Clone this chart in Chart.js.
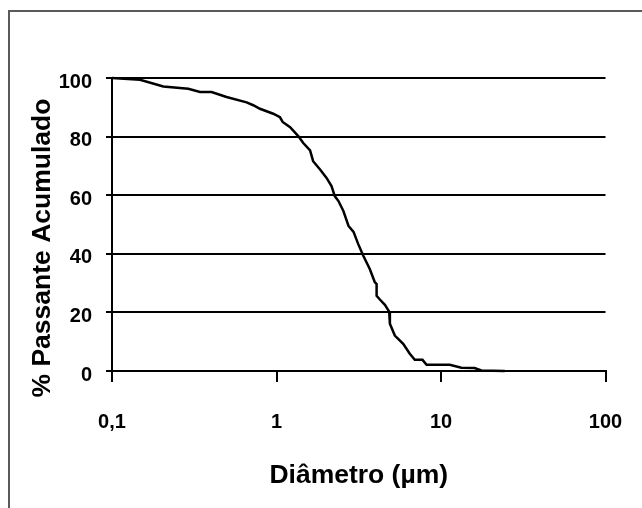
<!DOCTYPE html>
<html>
<head>
<meta charset="utf-8">
<script src="https://cdn.jsdelivr.net/npm/chart.js@4"></script>
<style>
  html, body { margin: 0; padding: 0; background: #fff; }
  #wrap { position: relative; width: 642px; height: 508px; overflow: hidden; }
  #frame { position: absolute; left: 8px; top: 10px; width: 700px; height: 600px; border: 2px solid #5a5a5a; box-sizing: border-box; }
  canvas { position: absolute; left: 0; top: 0; }
</style>
</head>
<body>
<div id="wrap">
  <div id="frame"></div>
  <canvas id="myChart" width="642" height="508"></canvas>
</div>
<script>
// Particle size distribution - cumulative passing vs diameter

const diametro = [0.1, 0.148, 0.205, 0.291, 0.343, 0.403, 0.497, 0.658, 0.722, 0.793,
  0.955, 1.05, 1.09, 1.21, 1.36, 1.45, 1.60, 1.67, 1.84, 2.01,
  2.16, 2.26, 2.38, 2.55, 2.74, 2.94, 3.14, 3.37, 3.69, 3.96,
  4.06, 4.06, 4.25, 4.56, 4.84, 4.89, 5.24, 5.89, 6.46, 6.93,
  7.72, 8.17, 11.3, 13.3, 16.0, 17.6, 24.4];
const passante = [100, 99.4, 97.1, 96.3, 95.2, 95.2, 93.5, 91.7, 90.7, 89.5,
  87.8, 86.6, 85.0, 83.2, 80.1, 77.9, 75.3, 71.6, 68.8, 66.0,
  63.1, 59.7, 58.0, 54.6, 49.5, 47.5, 43.3, 39.3, 34.8, 30.3,
  29.7, 25.7, 24.4, 22.6, 20.3, 16.1, 12.1, 9.3, 5.9, 3.8,
  3.8, 2.1, 2.1, 1.1, 1.0, 0.2, 0];

const xTickValues = [0.1, 1, 10, 100];
const xTickLabels = ['0,1', '1', '10', '100'];
const xTitle = 'Diâmetro (µm)';
const yTitle = '% Passante Acumulado';

const FONT = '"Liberation Sans", Arial, sans-serif';

// y-axis title drawn by hand so it can sit a bit below the axis centre
const yTitlePlugin = {
  id: 'yTitle',
  afterDraw(chart) {
    const ctx = chart.ctx;
    const area = chart.chartArea;
    ctx.save();
    ctx.translate(area.left - 69, area.bottom - 123);
    ctx.rotate(-Math.PI / 2);
    ctx.font = 'bold 26.5px ' + FONT;
    ctx.fillStyle = '#000';
    ctx.textAlign = 'center';
    ctx.textBaseline = 'middle';
    ctx.fillText(yTitle, 0, 0);
    ctx.restore();
  }
};

const ctx = document.getElementById('myChart').getContext('2d');

new Chart(ctx, {
  type: 'line',
  data: {
    datasets: [{
      data: diametro.map((d, i) => ({ x: d, y: passante[i] })),
      borderColor: '#000',
      borderWidth: 2.5,
      pointRadius: 0,
      tension: 0,
      fill: false,
      clip: 4
    }]
  },
  options: {
    responsive: false,
    animation: false,
    layout: {
      padding: { left: 0, right: 36.5, top: 78, bottom: 16 }
    },
    plugins: {
      legend: { display: false },
      tooltip: { enabled: false }
    },
    scales: {
      x: {
        type: 'logarithmic',
        min: 0.1,
        max: 100,
        afterBuildTicks: scale => {
          scale.ticks = xTickValues.map(v => ({ value: v }));
        },
        afterFit: scale => {
          scale.height = 121;
          // layout padding already leaves room for the end labels
          scale.paddingLeft = 0;
          scale.paddingRight = 0;
        },
        ticks: {
          color: '#000',
          padding: 28,
          maxRotation: 0,
          autoSkip: false,
          font: { family: FONT, size: 20, weight: 'bold' },
          callback: value => xTickLabels[xTickValues.indexOf(value)]
        },
        grid: {
          drawOnChartArea: false,
          drawTicks: true,
          tickLength: 11,
          color: '#000',
          lineWidth: 2
        },
        border: { color: '#000', width: 2 },
        title: {
          display: true,
          text: xTitle,
          color: '#000',
          font: { family: FONT, size: 26.5, weight: 'bold' },
          padding: { top: 0, bottom: 0 }
        }
      },
      y: {
        min: 0,
        max: 100,
        afterFit: scale => { scale.width = 112; },
        ticks: {
          stepSize: 20,
          color: '#000',
          padding: 14,
          labelOffset: 4,
          font: { family: FONT, size: 20, weight: 'bold' }
        },
        grid: {
          color: '#000',
          lineWidth: 2,
          tickLength: 6
        },
        border: { color: '#000', width: 2 }
      }
    }
  },
  plugins: [yTitlePlugin]
});
</script>
</body>
</html>
